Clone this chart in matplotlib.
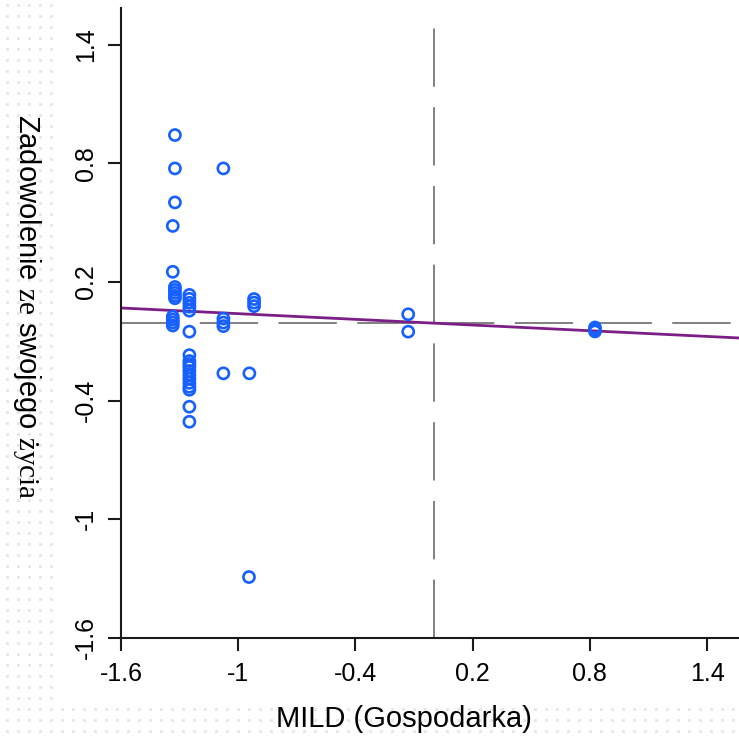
import matplotlib
matplotlib.use("Agg")
import matplotlib.pyplot as plt
import numpy as np

# Scatter points (MILD vs life satisfaction)
x_vals = [
    -1.324, -1.324, -1.324, -1.335, -1.335,
    -1.324, -1.324, -1.324, -1.324, -1.324,
    -1.335, -1.335, -1.335, -1.335,
    -1.250, -1.250, -1.250, -1.250, -1.250, -1.250,
    -1.250, -1.250, -1.250, -1.250, -1.250, -1.250,
    -1.250, -1.250, -1.250, -1.250, -1.250, -1.250,
    -1.076, -1.076, -1.076, -1.076, -1.076,
    -0.943, -0.945,
    -0.919, -0.919, -0.919,
    -0.130, -0.130,
    0.826, 0.826, 0.826,
]
y_vals = [
    0.944, 0.775, 0.603, 0.484, 0.252,
    0.175, 0.160, 0.145, 0.130, 0.118,
    0.025, 0.010, -0.005, -0.020,
    0.135, 0.115, 0.095, 0.075, 0.055, -0.051,
    -0.170, -0.200, -0.215, -0.230, -0.250, -0.270,
    -0.290, -0.310, -0.330, -0.345, -0.431, -0.507,
    0.775, 0.015, -0.005, -0.023, -0.262,
    -0.262, -1.293,
    0.114, 0.096, 0.078,
    0.037, -0.051,
    -0.030, -0.040, -0.050,
]

# fitted line and reference means
fit_intercept = -0.008
fit_slope = -0.048
mean_x = 0.0
mean_y = -0.006

ticks = [-1.6, -1.0, -0.4, 0.2, 0.8, 1.4]
tick_labels = ["-1.6", "-1", "-0.4", "0.2", "0.8", "1.4"]

plt.rcParams["font.family"] = ["Liberation Sans", "DejaVu Sans"]
plt.rcParams["mathtext.fontset"] = "custom"
plt.rcParams["mathtext.rm"] = "Liberation Serif"

W, H = 739, 740
fig = plt.figure(figsize=(W / 100, H / 100), dpi=100, facecolor="white")

# faint dotted page background in the margins
bg = np.ones((H, W, 3))
for r in range(5, H, 11):
    for c in range(7, W, 11):
        if c < 60 or r > 700:
            bg[r - 1:r + 2, c - 1:c + 2] = 0.91
fig.figimage(bg, xo=0, yo=0, zorder=-10)

ax = fig.add_axes([121 / W, 102.3 / H, (W - 121) / W, (H - 8 - 102.3) / H])
ax.set_facecolor("white")
ax.set_xlim(-1.6, 1.563)
ax.set_ylim(-1.6, 1.587)

ax.axhline(mean_y, color="#808080", lw=1.4, dashes=(30, 10.5), zorder=1)
ax.axvline(mean_x, color="#808080", lw=1.4, dashes=(30, 10.5), zorder=1)

xs = np.array([-1.6, 1.6])
ax.plot(xs, fit_intercept + fit_slope * xs, color="#7b1e86", lw=2.0, zorder=2)

ax.scatter(x_vals, y_vals, s=64, facecolors="none", edgecolors="#1660ff",
           linewidths=1.9, zorder=3)

for side in ["top", "right"]:
    ax.spines[side].set_visible(False)
for side in ["left", "bottom"]:
    ax.spines[side].set_linewidth(1.5)
    ax.spines[side].set_color("#1a1a1a")

ax.set_xticks(ticks)
ax.set_xticklabels(tick_labels)
ax.set_yticks(ticks)
ax.set_yticklabels(tick_labels, rotation=90, va="center")
ax.tick_params(axis="both", length=9.5, width=1.5, color="#1a1a1a",
               labelsize=18, direction="out")
ax.tick_params(axis="x", pad=8)
ax.tick_params(axis="y", pad=7)

fig.text(404 / W, 1 - 719 / H, "MILD (Gospodarka)", fontsize=21,
         ha="center", va="center")
fig.text(27 / W, 1 - 307 / H,
         r"Zadowolenie $\mathrm{ze}$ swojego $\mathrm{życia}$",
         fontsize=21, rotation=-90, ha="center", va="center")

fig.savefig("out.png", dpi=100, facecolor="white")
